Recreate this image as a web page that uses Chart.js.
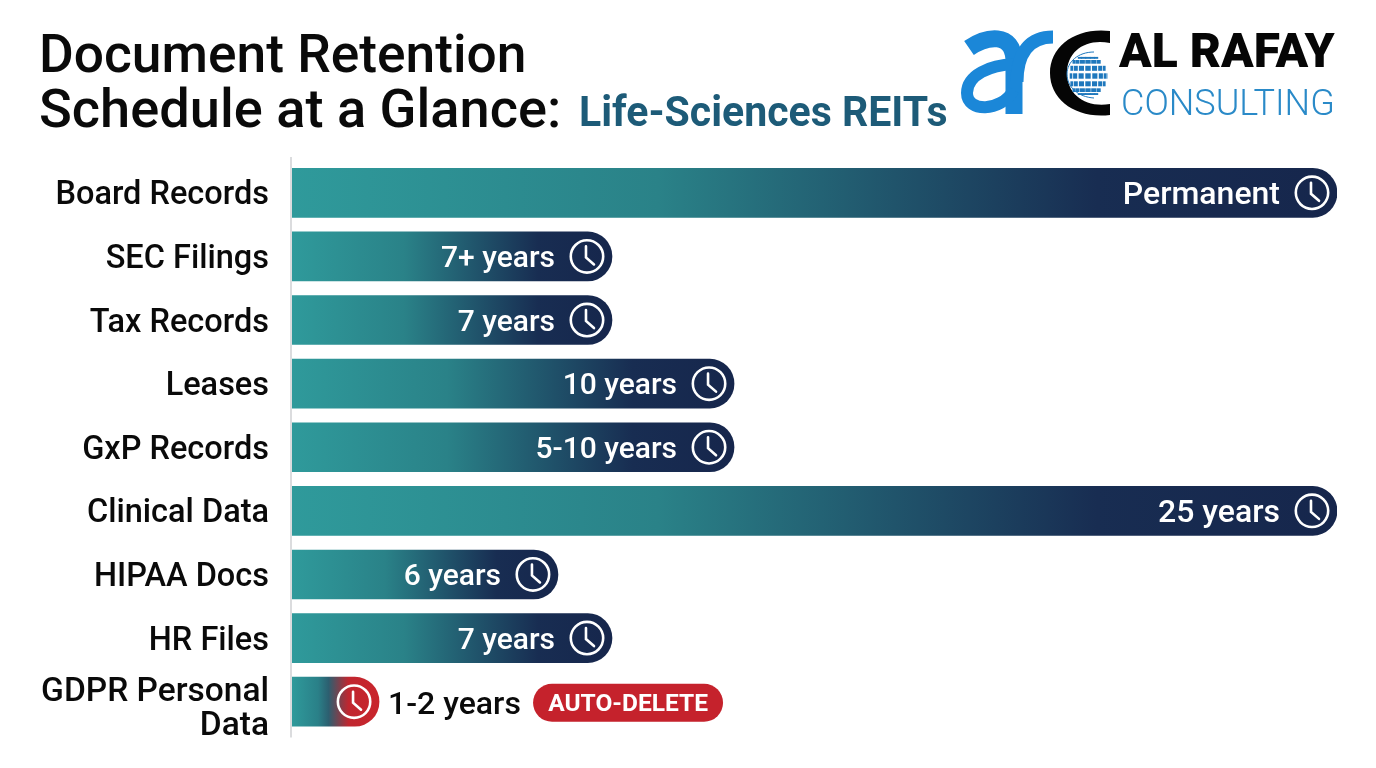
<!DOCTYPE html>
<html>
<head>
<meta charset="utf-8">
<title>Document Retention Schedule</title>
<script src="https://cdn.jsdelivr.net/npm/chart.js@4/dist/chart.umd.js"></script>
<style>
  html, body { margin: 0; padding: 0; background: #fff; width: 1376px; height: 768px; overflow: hidden; font-family: Roboto, sans-serif; }
  #wrap { position: relative; width: 1376px; height: 768px; }
  #retentionChart { position: absolute; left: 0; top: 0; }
  .head { position: absolute; left: 39px; color: #0a0a0a; font-size: 53.3px; font-weight: 500; line-height: 55px; white-space: nowrap; }
  .head span { position: absolute; left: 540px; top: 3px; color: #1d5b78; font-size: 43px; font-weight: 700; white-space: nowrap; transform: scaleX(0.954); transform-origin: left center; }
  #logo { position: absolute; left: 0; top: 0; }
</style>
</head>
<body>
<div id="wrap">
  <canvas id="retentionChart" width="1376" height="768"></canvas>
  <div class="head" style="top:27px">Document Retention</div>
  <div class="head" style="top:81px;font-size:54.2px">Schedule at a Glance:<span>Life-Sciences REITs</span></div>
  <svg id="logo" width="1376" height="140" xmlns="http://www.w3.org/2000/svg">
    <g fill="none" stroke="#1b87d8">
      <path d="M969 48 C985 37 1014 30 1014 62 L1014 114" stroke-width="17"/>
      <path d="M1014 64 C990 65 967 75 967 93 C967 112 1000 113 1014 90" stroke-width="12"/>
      <path d="M1017 82 C1017 52 1030 37 1053 37" stroke-width="13"/>
    </g>
    <path d="M1110 31 L1110 43 C1086 38 1067 51 1067 73 C1067 95 1086 108 1110 104 L1110 115 C1076 119 1050 100 1050 73 C1050 46 1076 27 1110 31 Z" fill="#050505"/>
    <path d="M1094 52 C1078 52 1067 62 1067 74 C1067 87 1078 97 1094 98" fill="none" stroke="#1f78bd" stroke-width="1"/>
    <g id="globe" fill="#1f78bd"></g>
    <text x="1119" y="67" font-family="Roboto" font-weight="900" font-size="48" fill="#060606">AL RAFAY</text>
    <text x="1121" y="115" font-family="Roboto" font-weight="300" font-size="36" fill="#2a8ac8">CONSULTING</text>
  </svg>
</div>
<script>
const categories = ['Board Records', 'SEC Filings', 'Tax Records', 'Leases', 'GxP Records', 'Clinical Data', 'HIPAA Docs', 'HR Files', ['GDPR Personal', 'Data']];
const years = [25, 7, 7, 10, 10, 25, 6, 7, 2];
const valueLabels = ['Permanent', '7+ years', '7 years', '10 years', '5-10 years', '25 years', '6 years', '7 years', '1-2 years'];
const autoDeleteIndex = 8;

// hidden x axis is not even: long periods are squeezed so short bars stay readable
const axisStops = [[0, 0], [2, 0.0833], [6, 0.2545], [7, 0.3062], [10, 0.423], [25, 1]];

class RetentionScale extends Chart.LinearScale {
  getPixelForValue(value) {
    let fraction = 1;
    for (let i = 1; i < axisStops.length; i++) {
      if (value <= axisStops[i][0]) {
        const a = axisStops[i - 1], b = axisStops[i];
        fraction = a[1] + (value - a[0]) / (b[0] - a[0]) * (b[1] - a[1]);
        break;
      }
    }
    return this.left + fraction * this.width;
  }
}
RetentionScale.id = 'retention';
RetentionScale.defaults = Chart.LinearScale.defaults;
Chart.register(RetentionScale);

function barFill(context) {
  const chart = context.chart;
  if (!chart.chartArea) return '#1a2e52';
  const i = context.dataIndex;
  const left = chart.chartArea.left;
  const right = chart.scales.x.getPixelForValue(years[i]);
  const g = chart.ctx.createLinearGradient(left, 0, right, 0);
  if (i === autoDeleteIndex) {
    g.addColorStop(0, '#2f9a9b');
    g.addColorStop(0.3, '#2a8088');
    g.addColorStop(0.42, '#2c5f70');
    g.addColorStop(0.65, '#c0262f');
    g.addColorStop(1, '#c9252c');
  } else {
    g.addColorStop(0, '#2f9a9b');
    g.addColorStop(0.35, '#2a8288');
    g.addColorStop(0.6, '#1f4f68');
    g.addColorStop(0.77, '#182d52');
    g.addColorStop(1, '#16264c');
  }
  return g;
}

function drawClock(ctx, x, y) {
  ctx.save();
  ctx.strokeStyle = '#fff';
  ctx.lineWidth = 2.6;
  ctx.lineCap = 'round';
  ctx.beginPath();
  ctx.arc(x, y, 16.2, 0, Math.PI * 2);
  ctx.stroke();
  ctx.beginPath();
  ctx.moveTo(x - 1, y - 10);
  ctx.lineTo(x - 1, y + 1);
  ctx.lineTo(x + 7, y + 8);
  ctx.stroke();
  ctx.restore();
}

// clock icon and retention period on each bar, plus the axis rule
const barLabels = {
  id: 'barLabels',
  afterLayout(chart) {
    // nudge category text onto the bar centres; the two-line one sits a little lower
    chart.scales.y.getLabelItems().forEach(function(item, i) {
      item.textOffset += i === autoDeleteIndex ? 8 : 3.5;
    });
  },
  afterDatasetsDraw(chart) {
    const ctx = chart.ctx;
    const area = chart.chartArea;
    ctx.save();
    ctx.strokeStyle = '#d2d4d6';
    ctx.lineWidth = 1.6;
    ctx.beginPath();
    ctx.moveTo(area.left - 1, area.top - 4);
    ctx.lineTo(area.left - 1, area.bottom + 4);
    ctx.stroke();

    ctx.textBaseline = 'middle';
    chart.getDatasetMeta(0).data.forEach(function(bar, i) {
      const clockX = bar.x - 25;
      drawClock(ctx, clockX, bar.y);
      if (i === autoDeleteIndex) {
        ctx.font = '500 32px Roboto';
        ctx.fillStyle = '#0a0a0a';
        ctx.textAlign = 'left';
        ctx.fillText(valueLabels[i], bar.x + 9, bar.y + 4);
        const bx = bar.x + 154, by = bar.y - 18, bw = 190, bh = 38;
        ctx.fillStyle = '#c5222c';
        ctx.beginPath();
        ctx.roundRect(bx, by, bw, bh, 19);
        ctx.fill();
        ctx.fillStyle = '#fff';
        ctx.font = '700 24.5px Roboto';
        ctx.textAlign = 'center';
        ctx.fillText('AUTO-DELETE', bx + bw / 2, by + bh / 2 + 2);
      } else {
        ctx.font = '500 ' + (years[i] === 25 ? 32 : 30) + 'px Roboto';
        ctx.fillStyle = '#fff';
        ctx.textAlign = 'right';
        ctx.fillText(valueLabels[i], clockX - 32, bar.y + 3);
      }
    });
    ctx.restore();
  }
};

document.addEventListener('DOMContentLoaded', function() {
  // small square tiles of the globe mark, bunched towards the rim
  const globe = document.getElementById('globe');
  let tiles = '';
  for (let row = -3; row <= 3; row++) {
    for (let col = -3; col <= 4; col++) {
      const lat = row * 0.42, lon = col * 0.37;
      const x = 1088 + 19 * Math.sin(lon) * Math.cos(lat * 0.7);
      const y = 76 + 19 * Math.sin(lat);
      const over = col === 4 && row !== 0 || col === 3 && Math.abs(row) > 1 || Math.abs(col) === 3 && Math.abs(row) === 3;
      if (!over) {
        const w = 5 * Math.cos(lon) + 0.4, h = 5 * Math.cos(lat) + 0.4;
        tiles += '<rect x="' + (x - w / 2).toFixed(1) + '" y="' + (y - h / 2).toFixed(1) + '" width="' + w.toFixed(1) + '" height="' + h.toFixed(1) + '"/>';
      }
    }
  }
  globe.innerHTML = tiles;

  const ctx = document.getElementById('retentionChart').getContext('2d');
  new Chart(ctx, {
    type: 'bar',
    data: {
      labels: categories,
      datasets: [{
        data: years,
        backgroundColor: barFill,
        barThickness: 49,
        borderRadius: { topLeft: 0, bottomLeft: 0, topRight: 24.5, bottomRight: 24.5 },
        borderSkipped: false
      }]
    },
    plugins: [barLabels],
    options: {
      indexAxis: 'y',
      responsive: false,
      animation: false,
      layout: { padding: { top: 161, right: 39, bottom: 34.5, left: 0 } },
      plugins: { legend: { display: false }, title: { display: false }, tooltip: { enabled: false } },
      scales: {
        x: { type: 'retention', display: false, min: 0, max: 25 },
        y: {
          border: { display: false },
          grid: { display: false, drawTicks: false },
          afterFit: function(scale) {
            scale.width = 292;
            scale.paddingTop = 0;
            scale.paddingBottom = 0;
          },
          ticks: {
            autoSkip: false,
            padding: 23,
            color: '#0a0a0a',
            font: function(context) {
              return { family: 'Roboto', size: context.index === autoDeleteIndex ? 33.5 : 32.5, weight: '500', lineHeight: 1 };
            }
          }
        }
      }
    }
  });
});
</script>
</body>
</html>
